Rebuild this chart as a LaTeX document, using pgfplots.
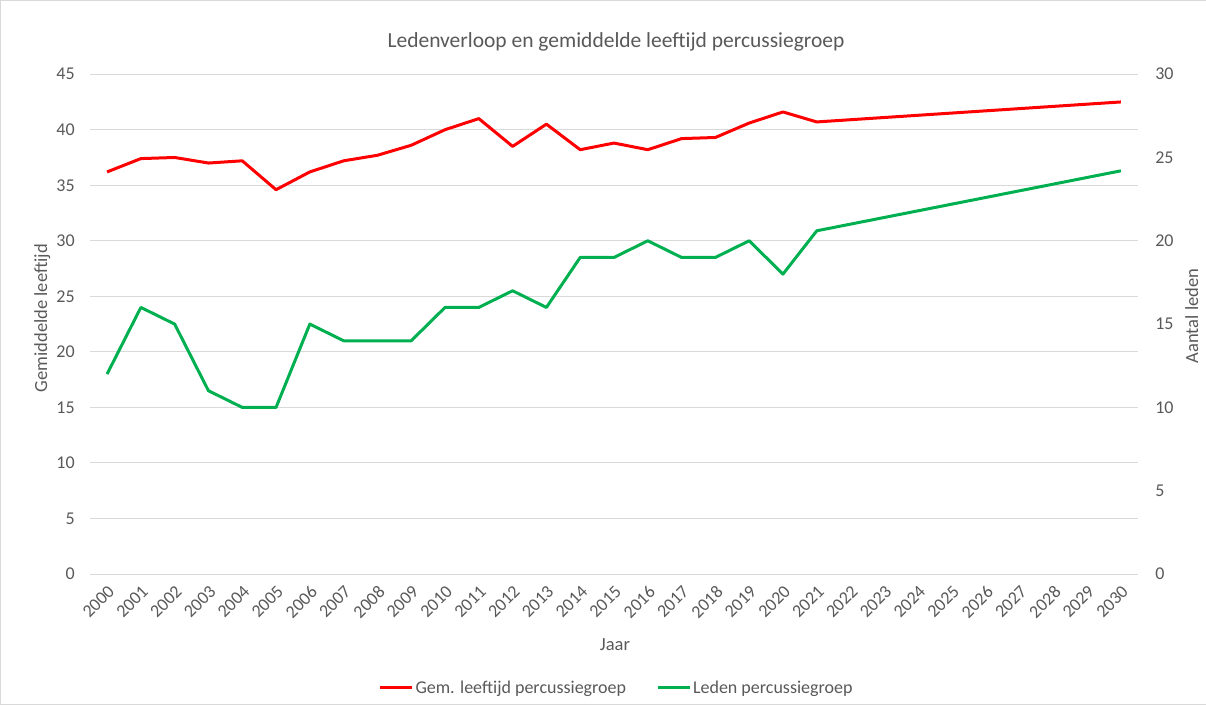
\documentclass[border=0pt]{standalone}
\usepackage{pgfplots}
\pgfplotsset{compat=1.18}
\usepackage{fontspec}
\setmainfont{Carlito}
\definecolor{txt}{HTML}{595959}
\definecolor{gridc}{HTML}{D9D9D9}
\definecolor{lred}{HTML}{FF0000}
\definecolor{lgreen}{HTML}{00B050}
\pgfplotsset{
  base/.style={
    at={(90pt,130pt)}, anchor=south west, scale only axis,
    width=1048pt, height=500pt,
    xmin=1999.5, xmax=2030.5,
    axis line style={draw=none}, major tick length=0pt,
    tick label style={text=txt, font=\fontsize{18}{21}\selectfont},
    /pgf/number format/assume math mode=true,
    /pgf/number format/1000 sep={},
  }
}
\begin{document}
\begin{tikzpicture}[x=1pt,y=1pt]
\path[use as bounding box, draw=gridc] (0,0) rectangle (1206,704);
\node[text=txt, font=\fontsize{21.5}{25}\selectfont] at (616,662) {Ledenverloop en gemiddelde leeftijd percussiegroep};
\node[text=txt, font=\fontsize{18.5}{21}\selectfont, rotate=90] at (42,386) {Gemiddelde leeftijd};
\node[text=txt, font=\fontsize{18.5}{21}\selectfont, rotate=90] at (1192,388) {Aantal leden};
\node[text=txt, font=\fontsize{18.5}{21}\selectfont] at (615,59) {Jaar};
\begin{axis}[base,
  ymin=0, ymax=45, ytick={0,5,...,45},
  xtick={2000,2001,...,2030},
  xticklabel style={rotate=45, anchor=north east, inner sep=1pt},
  xticklabel shift=9pt,
  yticklabel style={anchor=east, xshift=-12pt},
  ymajorgrids, grid style={gridc, line width=1pt},
  legend style={at={(0.5024,-0.228)}, anchor=center, draw=none, fill=none,
    legend columns=2, font=\fontsize{18}{21}\selectfont, text=txt,
    /tikz/every even column/.append style={column sep=28pt}},
  legend cell align=left,
  legend image code/.code={\draw[#1] (0pt,0pt) -- (32pt,0pt);},
]
\addplot[lred, line width=3pt, line join=round] coordinates {
(2000,36.2) (2001,37.4) (2002,37.5) (2003,37.0) (2004,37.2) (2005,34.6)
(2006,36.2) (2007,37.2) (2008,37.7) (2009,38.6) (2010,40.0) (2011,41.0)
(2012,38.5) (2013,40.5) (2014,38.2) (2015,38.8) (2016,38.2) (2017,39.2)
(2018,39.3) (2019,40.6) (2020,41.6) (2021,40.7) (2030,42.5)};
\addlegendentry{Gem. leeftijd percussiegroep}
\addlegendimage{lgreen, line width=3pt}
\addlegendentry{Leden percussiegroep}
\end{axis}
\begin{axis}[base,
  ymin=0, ymax=30, ytick={0,5,...,30},
  axis y line*=right, axis x line=none,
  yticklabel style={anchor=west, xshift=14pt},
]
\addplot[lgreen, line width=3pt, line join=round] coordinates {
(2000,12) (2001,16) (2002,15) (2003,11) (2004,10) (2005,10)
(2006,15) (2007,14) (2008,14) (2009,14) (2010,16) (2011,16)
(2012,17) (2013,16) (2014,19) (2015,19) (2016,20) (2017,19)
(2018,19) (2019,20) (2020,18) (2021,20.6) (2030,24.2)};
\end{axis}
\end{tikzpicture}
\end{document}
